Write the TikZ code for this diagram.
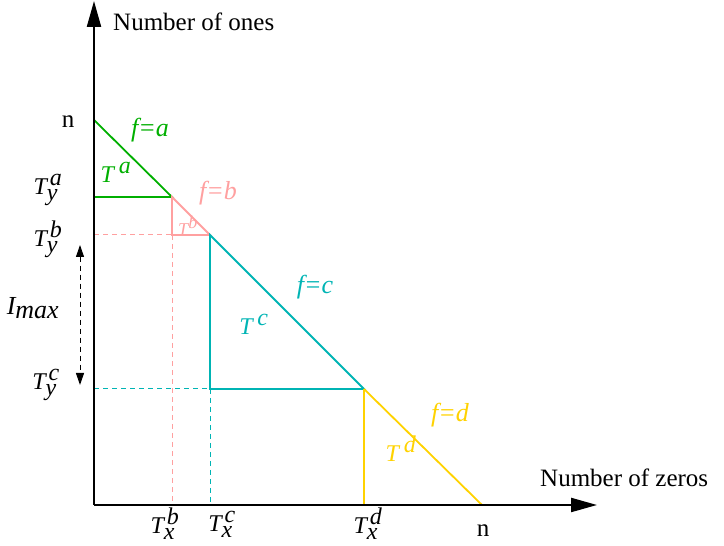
\documentclass[tikz,border=0pt]{standalone}
\usepackage{fontspec}
\setmainfont{Liberation Serif}
\usetikzlibrary{arrows.meta}
\definecolor{fgreen}{RGB}{0,175,0}
\definecolor{fpink}{RGB}{255,160,160}
\definecolor{fcyan}{RGB}{0,180,180}
\definecolor{fyellow}{RGB}{255,210,0}
\newcommand{\Tsub}[2]{$\textit{T}_{\textit{#1}}^{\,\textit{#2}}$}
\newcommand{\Tsup}[1]{$\textit{T}^{\;\textit{#1}}$}
\tikzset{
  axisline/.style={line width=2.2pt, -{Triangle[length=26pt, width=14pt]}},
  seg/.style={line width=1.8pt},
  guide/.style={line width=1pt, dash pattern=on 5pt off 4pt},
  lbl/.style={font=\fontsize{24}{28}\selectfont, inner sep=0pt},
  flbl/.style={font=\fontsize{26}{30}\selectfont, inner sep=0pt},
  ttl/.style={font=\fontsize{25}{28}\selectfont, inner sep=0pt},
}

\begin{document}
\begin{tikzpicture}[x=1pt, y=1pt]
  \useasboundingbox (0,0) rectangle (724,546);
  % corner points of the regions
  \coordinate (O) at (94,41);
  \coordinate (Ytop) at (94,545);
  \coordinate (Xend) at (597,41);
  \coordinate (N) at (94,426);
  \coordinate (A) at (172,349);
  \coordinate (B) at (210,311);
  \coordinate (C) at (364,157);
  \coordinate (D) at (482,41);
  \coordinate (Itop) at (80,301);
  \coordinate (Ibot) at (80,161);

  % guide lines
  \draw[guide, fpink] (O |- B) -- (A |- B);
  \draw[guide, fpink] (A |- B) -- (A |- O);
  \draw[guide, fcyan] (O |- C) -- (B |- C);
  \draw[guide, fcyan] (B |- C) -- (B |- O);

  % regions
  \draw[seg, fgreen] (N) -- (A) -- (O |- A);
  \draw[seg, fpink] (A) -- (B) -- (A |- B) -- cycle;
  \draw[seg, fcyan] (B) -- (C) -- (B |- C) -- cycle;
  \draw[seg, fyellow] (C) -- (D);
  \draw[seg, fyellow] (C) -- (C |- O);

  \draw[guide, {Triangle[length=12pt, width=8pt]}-{Triangle[length=12pt, width=8pt]}] (Itop) -- (Ibot);

  % axes
  \draw[axisline] (O) -- (Ytop);
  \draw[axisline] (O) -- (Xend);

  \node[ttl, anchor=west] (ones) at (113,524) {Number of ones};
  \node[ttl, anchor=west] (zeros) at (540,68) {Number of zeros};
  \node[ttl] (ny) at (68,424) {n};
  \node[ttl] (nx) at (483,15) {n};

  \node[lbl] (tya) at (48,356) {\Tsub{y}{a}};
  \node[lbl] (tyb) at (48,307) {\Tsub{y}{b}};
  \node[lbl] (tyc) at (46,161) {\Tsub{y}{c}};
  \node[lbl] (imax) at (33,238) {\fontsize{26}{30}\selectfont$\textit{I}_{\textit{max}}$};
  \node[lbl] (txb) at (165,22) {\Tsub{x}{b}};
  \node[lbl] (txc) at (222,22) {\Tsub{x}{c}};
  \node[lbl] (txd) at (368,22) {\Tsub{x}{d}};

  \node[flbl, fgreen] (fa) at (150,416) {\textit{f=a}};
  \node[lbl, fgreen] (ta) at (116,374) {\Tsup{a}};
  \node[flbl, fpink] (fb) at (218,353) {\textit{f=b}};
  \node[lbl, fpink, font=\fontsize{18}{20}\selectfont] (tb) at (188,320) {$\textit{T}^{\textit{b}}$};
  \node[flbl, fcyan] (fc) at (315,259) {\textit{f=c}};
  \node[lbl, fcyan] (tc) at (254,222) {\Tsup{c}};
  \node[flbl, fyellow] (fd) at (450,131) {\textit{f=d}};
  \node[lbl, fyellow] (td) at (401,97) {\Tsup{d}};
\end{tikzpicture}
\end{document}
